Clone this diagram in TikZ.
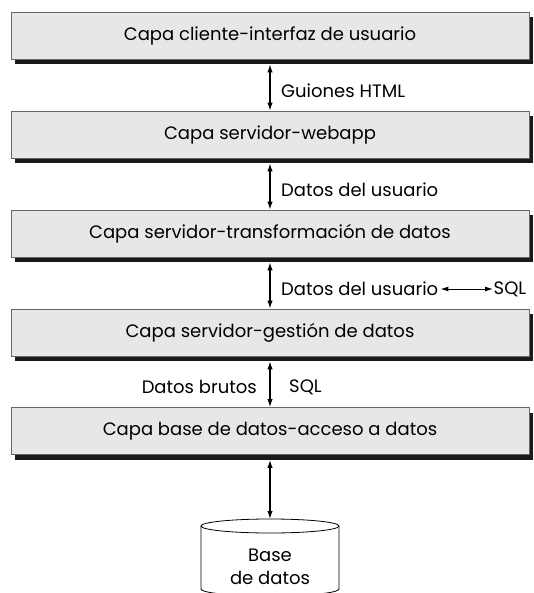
\documentclass[tikz,border=0pt]{standalone}
\usepackage{fontspec}
\setmainfont{Poppins}
\usetikzlibrary{arrows.meta,shadows}
\definecolor{layerfill}{RGB}{230,231,232}
\begin{document}
\begin{tikzpicture}
[
	x=1pt,y=-1pt,
	layer/.style={draw=black!60,line width=0.8pt,fill=layerfill,minimum width=518pt,minimum height=47pt,inner sep=0pt,font=\fontsize{18}{21}\selectfont,drop shadow={shadow xshift=4pt,shadow yshift=-5pt,fill=black!90,opacity=1}},
	flow/.style={line width=1.3pt,{Latex[length=8pt,width=5.5pt]}-{Latex[length=8pt,width=5.5pt]}},
	lbl/.style={font=\fontsize{18}{21}\selectfont,inner sep=2pt},
	scale=1
]
	\useasboundingbox (0,0) rectangle (533,593);
	\clip (0,0) rectangle (533,593);

	\node[layer] at (270,35.5) (ui) {Capa cliente-interfaz de usuario};
	\node[layer] at (270,134.5) (web) {Capa servidor-webapp};
	\node[layer] at (270,233.5) (trans) {Capa servidor-transformación de datos};
	\node[layer] at (270,332.5) (mgmt) {Capa servidor-gestión de datos};
	\node[layer] at (270,431) (access) {Capa base de datos-acceso a datos};

	\draw[flow,shorten <=5pt] (ui.south) -- (web.north);
	\draw[flow,shorten <=5pt] (web.south) -- (trans.north);
	\draw[flow,shorten <=5pt] (trans.south) -- (mgmt.north);
	\draw[flow,shorten <=5pt] (mgmt.south) -- (access.north);

	\node[lbl,anchor=west] at (279,91) (html) {Guiones HTML};
	\node[lbl,anchor=west] at (279,190) (usr1) {Datos del usuario};
	\node[lbl,anchor=west] at (279,289) (usr2) {Datos del usuario};
	\node[lbl,anchor=west,inner sep=0.5pt] at (493,289) (sql1) {SQL};
	\draw[line width=1pt,{Latex[length=8pt,width=5pt]}-{Latex[length=8pt,width=5pt]}] (usr2.east) -- (sql1.west);
	\node[lbl,anchor=east] at (259,387) (raw) {Datos brutos};
	\node[lbl,anchor=west] at (287,387) (sql2) {SQL};

	\coordinate (dbtop) at (270,519);
	\draw[line width=0.8pt,fill=white] (201,526) -- (201,589) arc[start angle=180,end angle=0,x radius=69,y radius=7] -- (339,526);
	\draw[line width=0.8pt,fill=white] (270,526) ellipse[x radius=69,y radius=7];
	\node[lbl,align=center,font=\fontsize{18}{23}\selectfont] at (270,567) (db) {Base\\de datos};

	\draw[flow,shorten <=5pt] (access.south) -- (dbtop);

\end{tikzpicture}
\end{document}
